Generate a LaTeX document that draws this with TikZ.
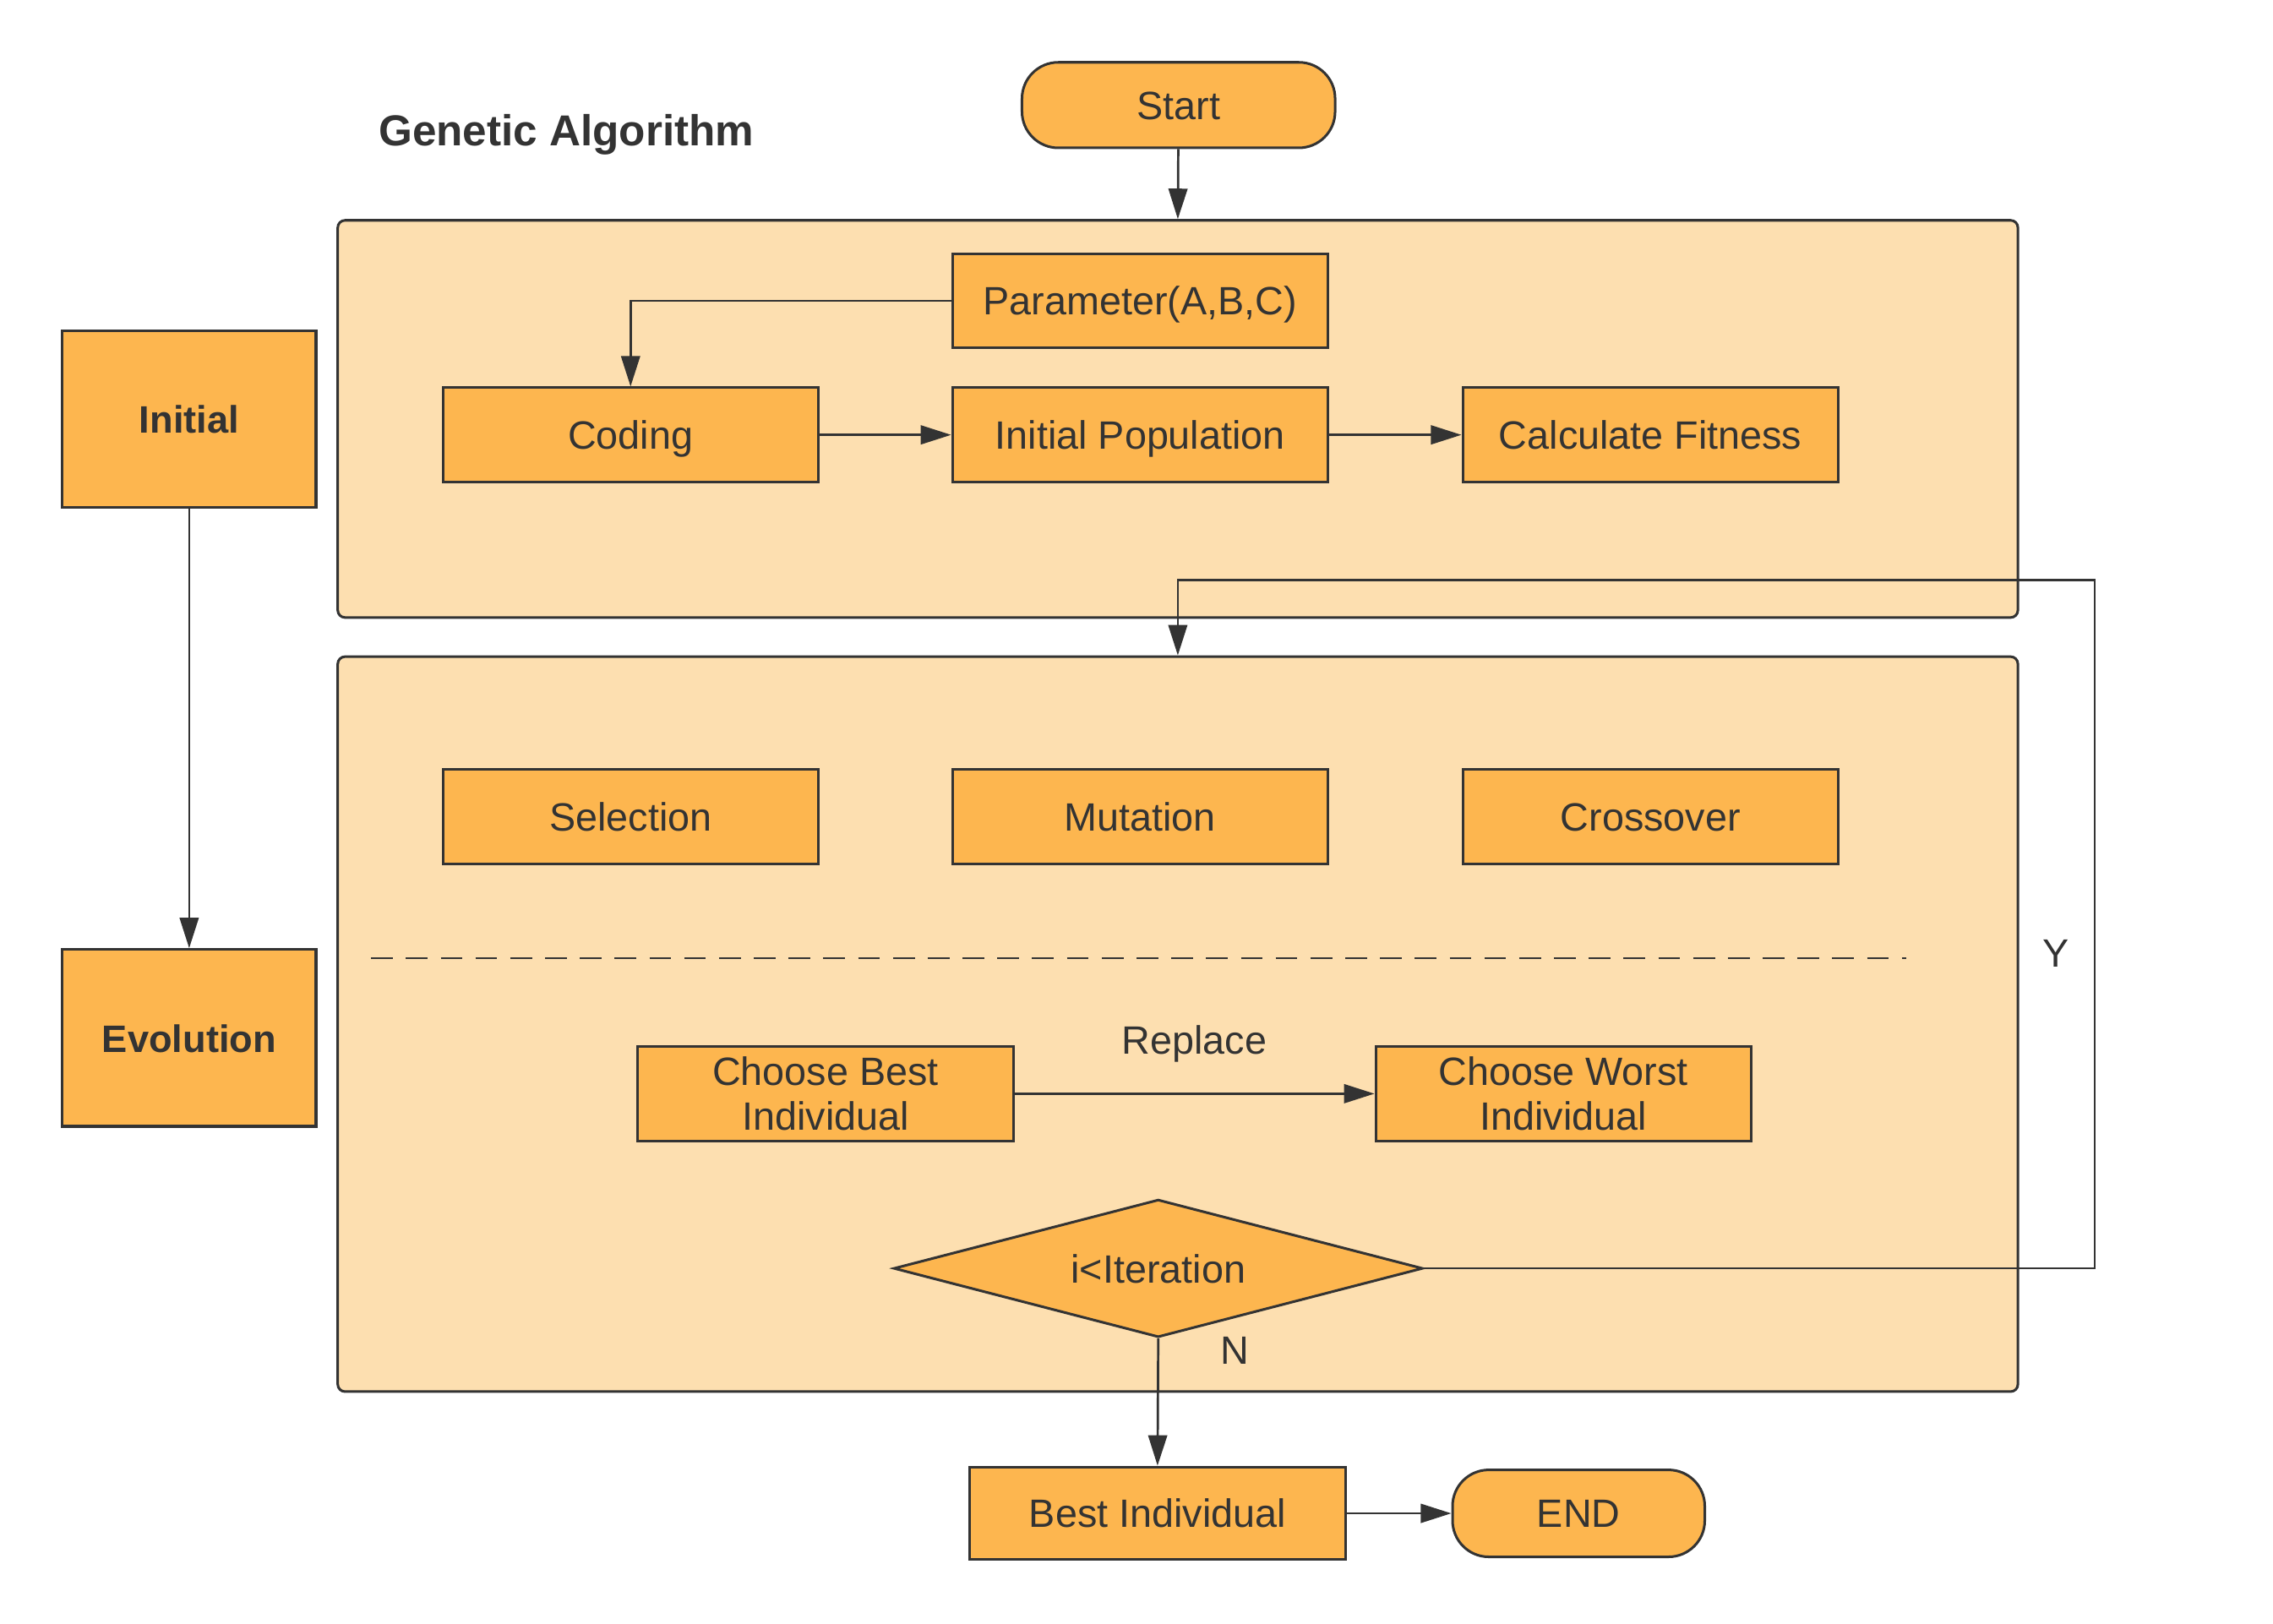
\documentclass[tikz,border=0pt]{standalone}
\usepackage{fontspec}
\setmainfont{Liberation Sans}
\usetikzlibrary{arrows.meta,shapes.geometric}
\definecolor{boxfill}{HTML}{FDB64F}
\definecolor{panelfill}{HTML}{FDDFB0}
\definecolor{ink}{HTML}{333333}
\begin{document}
\begin{tikzpicture}[
    every node/.style={text=ink,font=\fontsize{15.5}{17.6}\selectfont},
    box/.style={draw=ink,line width=1pt,fill=boxfill,minimum width=5.18cm,minimum height=1.3cm,align=center,text height=11.2pt,text depth=0pt},
    sidebox/.style={box,minimum width=3.5cm,minimum height=2.44cm,font=\fontsize{15}{18}\selectfont\bfseries},
    terminal/.style={box,rounded corners=0.5cm,minimum height=1.2cm},
    panel/.style={draw=ink,line width=1pt,fill=panelfill,rounded corners=0.1cm,minimum width=23.18cm},
    decision/.style={diamond,aspect=3.84,draw=ink,line width=1pt,fill=boxfill,minimum width=7.3cm,minimum height=1.9cm,inner sep=0pt,text height=11.2pt,text depth=0pt},
    arrow/.style={draw=ink,line width=0.9pt,-{Triangle[length=0.42cm,width=0.26cm]}}
]
    \useasboundingbox (0,-0.256) rectangle (31.36,22.14);

    % the two big blocks
    \node[panel,minimum height=5.48cm] (init) at (16.25,16.36) {};
    \node[panel,minimum height=10.14cm] (evo) at (16.25,8.01) {};

    \node[anchor=west,font=\fontsize{17}{20}\selectfont\bfseries] (title) at (5.1,20.28) {Genetic\ Algorithm};
    \node[terminal,minimum width=4.32cm,minimum height=1.18cm] (start) at (16.26,20.69) {Start};

    \node[sidebox] (sinit) at (2.61,16.36) {Initial};
    \node[sidebox] (sevo) at (2.61,7.82) {Evolution};

    % initial block
    \node[box] (param) at (15.73,17.99) {Parameter(A,B,C)};
    \node[box] (coding) at (8.7,16.14) {Coding};
    \node[box] (pop) at (15.73,16.14) {Initial Population};
    \node[box] (fit) at (22.77,16.14) {Calculate Fitness};

    % evolution block
    \node[box] (sel) at (8.7,10.87) {Selection};
    \node[box] (mut) at (15.73,10.87) {Mutation};
    \node[box] (cross) at (22.77,10.87) {Crossover};
    \draw[ink,line width=0.9pt,dash pattern=on 0.3cm off 0.18cm] (5.12,8.92) -- (26.3,8.92);

    \node[box,text height=,text depth=] (best) at (11.39,7.05) {Choose Best\\Individual};
    \node[box,text height=,text depth=] (worst) at (21.57,7.05) {Choose Worst\\Individual};
    \node[decision] (cond) at (15.98,4.64) {i<Iteration};

    \node[box,minimum height=1.28cm] (result) at (15.97,1.26) {Best Individual};
    \node[terminal,minimum width=3.48cm] (stop) at (21.78,1.26) {END};

    \coordinate (loop) at (28.9,14.14);

    \draw[arrow] (start) -- (init.north);
    \draw[arrow] (param.west) -| (coding.north);
    \draw[arrow] (coding) -- (pop);
    \draw[arrow] (pop) -- (fit);
    \draw[arrow] (sinit) -- (sevo);
    \draw[arrow] (best) -- (worst) node[midway,above=0.3cm] (rep) {Replace};
    \draw[arrow] (cond.east) -| (loop) -- (loop -| evo.north) -- (evo.north);
    \node (yes) at (28.36,8.98) {Y};
    \draw[arrow] (cond.south) -- (result.north);
    \node (no) at (17.04,3.5) {N};
    \draw[arrow] (result) -- (stop);
\end{tikzpicture}
\end{document}
